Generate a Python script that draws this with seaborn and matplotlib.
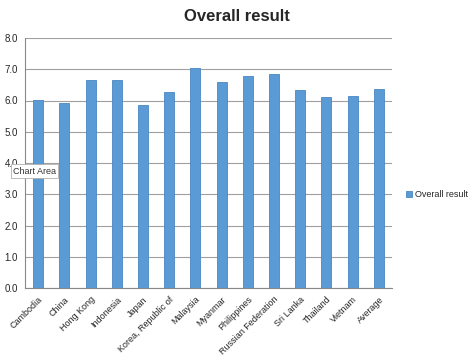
import matplotlib
matplotlib.use("Agg")
import matplotlib.pyplot as plt
import seaborn as sns
import pandas as pd

countries = ["Cambodia", "China", "Hong Kong", "Indonesia", "Japan",
             "Korea, Republic of", "Malaysia", "Myanmar", "Philippines",
             "Russian Federation", "Sri Lanka", "Thailand", "Vietnam", "Average"]
overall = [6.01, 5.93, 6.66, 6.66, 5.86, 6.27, 7.05, 6.58, 6.79, 6.85,
           6.34, 6.10, 6.14, 6.38]
yticks = [0, 1, 2, 3, 4, 5, 6, 7, 8]
series_name = "Overall result"

df = pd.DataFrame({"Country": countries, series_name: overall})

sns.set_style("white")
plt.rcParams["font.family"] = ["Liberation Sans", "DejaVu Sans"]

fig = plt.figure(figsize=(4.74, 3.58), dpi=100)
ax = fig.add_axes([25/474, 70/358, 367/474, 250/358])

sns.barplot(data=df, x="Country", y=series_name, color="#5B9BD5",
            width=0.38, edgecolor="#4A86C0", linewidth=0.6, ax=ax,
            label=series_name, saturation=1)
if ax.get_legend() is not None:
    ax.get_legend().remove()

ax.set_ylim(0, 8)
ax.set_xlim(-0.5, len(countries) - 0.5)
ax.set_yticks(yticks)
ax.set_yticklabels([f"{v:.1f}" for v in yticks], fontsize=7)
ax.yaxis.grid(True, color="#A0A0A0", linewidth=0.8)
ax.set_axisbelow(True)
ax.set_xlabel("")
ax.set_ylabel("")
for s in ["top", "right"]:
    ax.spines[s].set_visible(False)
ax.spines["left"].set_color("#888888")
ax.spines["bottom"].set_color("#888888")
ax.tick_params(axis="y", length=3, color="#888888", pad=2)

ax.set_xticks(range(len(countries)))
ax.set_xticklabels(countries, rotation=45, ha="right", rotation_mode="anchor", fontsize=6.5)
ax.tick_params(axis="x", length=0, pad=5)
# category separator ticks
ax.set_xticks([i - 0.5 for i in range(len(countries) + 1)], minor=True)
ax.tick_params(axis="x", which="minor", length=4, color="#888888", direction="out")

fig.text(0.5, 0.955, "Overall result", ha="center", va="center",
         fontsize=12, fontweight="bold")

handles, labels = ax.get_legend_handles_labels()
fig.legend(handles, labels, loc="center left", bbox_to_anchor=(404/474, 1 - 195/358),
           frameon=False, fontsize=6.5, handlelength=0.7, handleheight=0.7,
           handletextpad=0.3, borderaxespad=0, borderpad=0.2)

fig.text(13/474, 1 - 171/358, "Chart Area", ha="left", va="center", fontsize=6.5,
         color="#333333",
         bbox=dict(boxstyle="square,pad=0.25", facecolor="white", edgecolor="#B0B0B0", linewidth=0.6))

fig.savefig("out.png", dpi=100)
